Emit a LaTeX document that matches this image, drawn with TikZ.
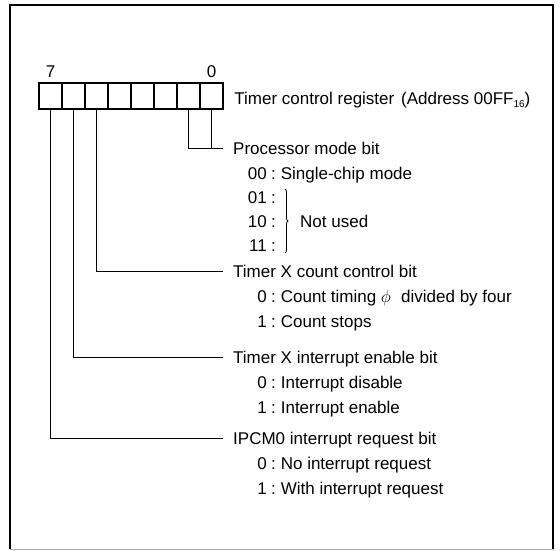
\documentclass[tikz,border=0pt]{standalone}
\usepackage{fontspec}
\setmainfont{Liberation Sans}
\usetikzlibrary{positioning,calc,decorations.pathreplacing}

\begin{document}
\begin{tikzpicture}[x=1pt,y=-1pt,
  cell/.style={draw,line width=2.4pt,minimum width=23pt,minimum height=26pt,inner sep=0pt},
  wire/.style={line width=1pt},
  txt/.style={inner sep=0pt,text height=12pt,text depth=0pt,font=\fontsize{17}{20}\selectfont},
  head/.style={txt,anchor=west,inner xsep=10pt},
  val/.style={txt,anchor=east}]
\useasboundingbox (0,0) rectangle (560,551);
% frame
\draw[line width=2.5pt] (10,549) -- (10,5) -- (553,5) -- (553,549);
\draw[line width=0.8pt,black!35] (10,549) -- (553,549);
% register cells
\foreach \i in {0,...,7}
  \node[cell] (b\i) at ({211.5-23*\i},96) {};
\node[txt,above=4pt of b7] (n7) {7};
\node[txt,above=4pt of b0] (n0) {0};
\node[head,right=0pt of b0,yshift=-3pt] (reg) {Timer control register\hspace{0.4em}(Address 00FF\raisebox{-2.5pt}{\fontsize{10}{12}\selectfont 16})};
% bit names
\node[head] (pm) at (223,148) {Processor mode bit};
\node[head] (cc) at (223,271) {Timer X count control bit};
\node[head] (ie) at (223,357) {Timer X interrupt enable bit};
\node[head] (ir) at (223,438) {IPCM0 interrupt request bit};
% values
\foreach \n/\y/\v/\t in {pa/173/00/Single-chip mode,
    ca/296/0/Count timing $\phi$\hspace{0.6em}divided by four, cb/321/1/Count stops,
    ea/382/0/Interrupt disable, eb/407/1/Interrupt enable,
    ra/463/0/No interrupt request, rb/488/1/With interrupt request} {
  \node[val] (v\n) at (267,\y) {\v};
  \node[txt,right=4pt of v\n] (c\n) {:};
  \node[txt,right=4.5pt of c\n] (t\n) {\t};
}
\foreach \n/\y/\v in {pb/197/01,pc/221/10,pd/245/11} {
  \node[val] (v\n) at (267,\y) {\v};
  \node[txt,right=4pt of v\n] (c\n) {:};
}
\coordinate (bt) at (285,189);
\coordinate (bb) at (285,253);
\draw[decorate,decoration={brace,amplitude=3pt},line width=0.8pt] (bt) -- (bb);
\node[txt,anchor=west] (nu) at (300,221) {Not used};
% connectors
\draw[wire] (b1.south) |- (pm.west);
\draw[wire] (b0.south) -- (b0.south |- pm.west);
\draw[wire] (b5.south) |- (cc.west);
\draw[wire] (b6.south) |- (ie.west);
\draw[wire] (b7.south) |- (ir.west);
\end{tikzpicture}
\end{document}
